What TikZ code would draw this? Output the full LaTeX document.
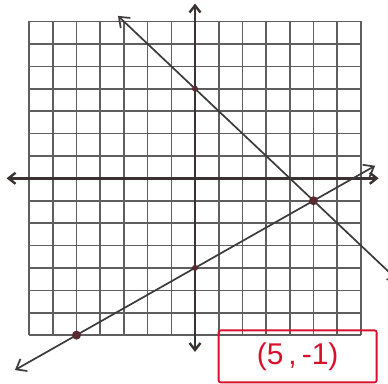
\documentclass[tikz,border=0pt]{standalone}
\usepackage{fontspec}
\setmainfont{Liberation Sans}
\usetikzlibrary{arrows.meta}
\definecolor{gridc}{HTML}{5E5E5E}
\definecolor{axisc}{HTML}{3A3232}
\definecolor{linec}{HTML}{3C3A3A}
\definecolor{dotc}{HTML}{5A2A32}
\definecolor{redc}{HTML}{D8102C}
\tikzset{
  gridline/.style={gridc, line width=1.6pt},
  axisline/.style={axisc, line width=2.4pt, {Straight Barb[length=7pt,width=11pt]}-{Straight Barb[length=7pt,width=11pt]}},
  graphline/.style={linec, line width=1.7pt, {Straight Barb[length=9pt,width=14pt]}-{Straight Barb[length=9pt,width=14pt]}},
  ptdot/.style={circle, fill=dotc, inner sep=0pt, minimum size=9pt},
  answerbox/.style={draw=redc, line width=1.8pt, text=redc, rounded corners=2pt, minimum width=158pt, minimum height=52pt, font=\fontsize{30}{32}\selectfont}
}
\begin{document}
\begin{tikzpicture}[x=23.7pt, y=22.4pt]
\useasboundingbox (-8.228,-9.138) rectangle (8.143,7.96);
% grid
\foreach \i in {-7,...,7} {
  \draw[gridline] (\i,-7) -- (\i,7);
  \draw[gridline] (-7,\i) -- (7,\i);
}
% axes
\coordinate (xl) at (-7.95,0);
\coordinate (xr) at (7.75,0);
\coordinate (yt) at (0,7.8);
\coordinate (yb) at (0,-7.75);
\draw[axisline] (xl) -- (xr);
\draw[axisline] (yt) -- (yb);
% line 1: y = -x + 4
\coordinate (a1) at (-3.25,7.25);
\coordinate (a2) at (8.6,-4.6);
\draw[graphline] (a1) -- (a2);
% line 2: y = 0.6x - 4
\coordinate (b1) at (-7.6,-8.56);
\coordinate (b2) at (7.6,0.56);
\draw[graphline] (b1) -- (b2);
% points
\node[ptdot] (p1) at (5,-1) {};
\node[ptdot] (p2) at (-5,-7) {};
\node[ptdot, minimum size=6pt] (p3) at (0,-4) {};
\node[ptdot, minimum size=6pt] (p4) at (0,4) {};
% answer
\node[answerbox] (ans) at (4.33,-7.95) {(5\,,\,-1)};
\end{tikzpicture}
\end{document}
